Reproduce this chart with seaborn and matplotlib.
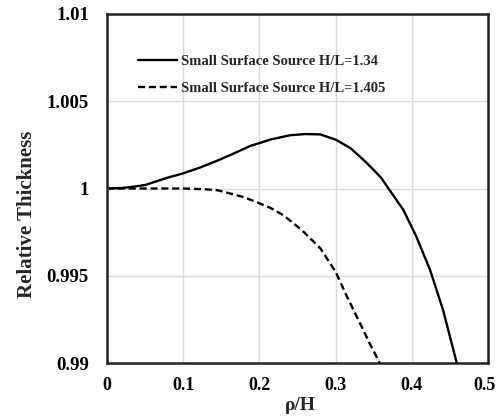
import numpy as np
import pandas as pd
import matplotlib
matplotlib.use("Agg")
import matplotlib.pyplot as plt
import matplotlib.transforms as mtransforms
import seaborn as sns

# ---- data ----
rho_a = [0.0, 0.02, 0.034, 0.05, 0.078, 0.1, 0.122, 0.145, 0.166, 0.188, 0.2, 0.214,
         0.24, 0.26, 0.28, 0.3, 0.32, 0.34, 0.35, 0.36, 0.371, 0.389, 0.406, 0.424, 0.441, 0.459]
thk_a = [1.0, 1.00003, 1.0001, 1.0002, 1.0006, 1.00087, 1.0012, 1.0016, 1.0020, 1.00244, 1.0026, 1.0028,
         1.00305, 1.00312, 1.0031, 1.0028, 1.0023, 1.0015, 1.00106, 1.0006, 0.9999, 0.99877, 0.99724, 0.99533, 0.99304, 0.990]

rho_b = [0.0, 0.05, 0.1, 0.13, 0.145, 0.161, 0.18, 0.2, 0.214, 0.231, 0.245, 0.258, 0.28,
         0.30, 0.315, 0.332, 0.345, 0.358]
thk_b = [1.0, 1.0, 1.0, 0.99995, 0.9999, 0.99972, 0.9995, 0.99915, 0.9989, 0.99848, 0.998, 0.99752, 0.99657,
         0.99523, 0.9938, 0.99228, 0.9911, 0.990]

labels = ["Small Surface Source H/L=1.34", "Small Surface Source H/L=1.405"]
x_ticks = [0, 0.1, 0.2, 0.3, 0.4, 0.5]
x_tick_labels = ["0", "0.1", "0.2", "0.3", "0.4", "0.5"]
y_ticks = [0.99, 0.995, 1.0, 1.005, 1.01]
y_tick_labels = ["0.99", "0.995", "1", "1.005", "1.01"]

df = pd.concat([
    pd.DataFrame({"rho": rho_a, "thk": thk_a, "series": labels[0]}),
    pd.DataFrame({"rho": rho_b, "thk": thk_b, "series": labels[1]}),
], ignore_index=True)

sns.set_theme(style="white")
plt.rcParams["font.family"] = ["Liberation Serif", "DejaVu Serif"]
plt.rcParams["font.weight"] = "bold"

W, H = 497, 416
L, R, T, B = 107, 488, 14, 363
fig = plt.figure(figsize=(W / 100, H / 100), dpi=100)
ax = fig.add_axes([L / W, 1 - B / H, (R - L) / W, (B - T) / H])

sns.lineplot(data=df, x="rho", y="thk", hue="series", style="series",
             palette=["black", "black"], dashes={labels[0]: "", labels[1]: (3, 1.6)},
             linewidth=1.7, sort=False, estimator=None, ax=ax)

ax.set_xlim(0, 0.5)
ax.set_ylim(0.99, 1.01)
ax.set_xticks(x_ticks)
ax.set_xticklabels(x_tick_labels, fontsize=13, fontweight="bold")
ax.set_yticks(y_ticks)
ax.set_yticklabels(y_tick_labels, fontsize=13.5, fontweight="bold")
ax.tick_params(axis="both", length=0, colors="black")
ax.tick_params(axis="x", pad=10)
ax.tick_params(axis="y", pad=13)

# keep the last x tick label inside the canvas
last = ax.get_xticklabels()[-1]
last.set_transform(last.get_transform() + mtransforms.ScaledTranslation(-4 / 100, 0, fig.dpi_scale_trans))

ax.grid(True, color="#d9d9d9", linewidth=1.0)
ax.set_axisbelow(True)
for s in ax.spines.values():
    s.set_color("#222222")
    s.set_linewidth(1.8)

ax.set_xlabel("ρ/H", fontsize=14, fontweight="bold")
ax.xaxis.label.set_va("baseline")
ax.xaxis.set_label_coords((300 - L) / (R - L), (B - 410) / (B - T))
ax.set_ylabel("Relative Thickness", fontsize=15, fontweight="bold")
ax.yaxis.label.set_va("baseline")
ax.yaxis.set_label_coords((32 - L) / (R - L), (B - 214) / (B - T))

leg = ax.legend(loc="upper left", bbox_to_anchor=((138 - L) / (R - L), 1 - (55 - T) / (B - T)),
                frameon=False, fontsize=10.5, handlelength=2.7, handletextpad=0.27,
                labelspacing=0.95, borderpad=0, borderaxespad=0)
for t in leg.get_texts():
    t.set_fontweight("bold")

fig.savefig("out.png", dpi=100)
